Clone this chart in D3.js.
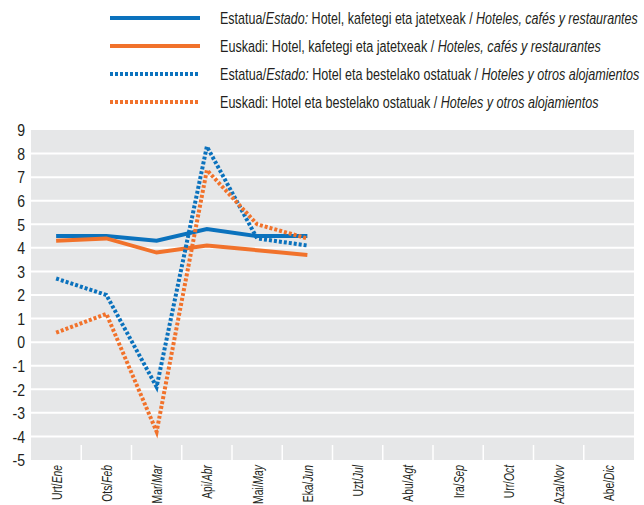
<!DOCTYPE html>
<html>
<head>
<meta charset="utf-8">
<script src="https://cdn.jsdelivr.net/npm/d3@7"></script>
<style>
  html, body { margin: 0; padding: 0; background: #fff; }
  svg { display: block; }
  text { font-family: "Liberation Sans", Arial, sans-serif; fill: #231f20; }
</style>
</head>
<body>
<svg id="chart" width="644" height="505"></svg>
<script>
// ---- data ----
const monthsEu = ["Urt", "Ots", "Mar", "Api", "Mai", "Eka", "Uzt", "Abu", "Ira", "Urr", "Aza", "Abe"];
const monthsEs = ["Ene", "Feb", "Mar", "Abr", "May", "Jun", "Jul", "Agt", "Sep", "Oct", "Nov", "Dic"];
const estadoHoteles = [4.5, 4.5, 4.3, 4.8, 4.5, 4.5];
const euskadiHoteles = [4.3, 4.4, 3.8, 4.1, 3.9, 3.7];
const estadoAlojamientos = [2.7, 2.0, -1.9, 8.3, 4.4, 4.1];
const euskadiAlojamientos = [0.4, 1.2, -3.8, 7.3, 5.0, 4.4];
const yTicks = [9, 8, 7, 6, 5, 4, 3, 2, 1, 0, -1, -2, -3, -4, -5];

const seriesNames = [
  [["Estatua/", false], ["Estado:", true], [" Hotel, kafetegi eta jatetxeak / ", false], ["Hoteles, cafés y restaurantes", true]],
  [["Euskadi: Hotel, kafetegi eta jatetxeak / ", false], ["Hoteles, cafés y restaurantes", true]],
  [["Estatua/", false], ["Estado:", true], [" Hotel eta bestelako ostatuak / ", false], ["Hoteles y otros alojamientos", true]],
  [["Euskadi: Hotel eta bestelako ostatuak / ", false], ["Hoteles y otros alojamientos", true]]
];

const blue = "#0b72bd";
const orange = "#f1722b";
const series = [
  { values: estadoHoteles, color: blue, dash: null },
  { values: euskadiHoteles, color: orange, dash: null },
  { values: estadoAlojamientos, color: blue, dash: "3,2" },
  { values: euskadiAlojamientos, color: orange, dash: "3,2" }
];

// ---- layout ----
const svg = d3.select("#chart");
const plot = { left: 31, right: 634, top: 130, bottom: 460 };

const x = d3.scaleBand().domain(d3.range(12)).range([plot.left, plot.right]).padding(0);
const y = d3.scaleLinear().domain([-5, 9]).range([plot.bottom, plot.top]);

// background
svg.append("rect")
  .attr("x", plot.left).attr("y", plot.top)
  .attr("width", plot.right - plot.left).attr("height", plot.bottom - plot.top)
  .attr("fill", "#e6e7e8");

// horizontal gridlines
svg.append("g").selectAll("line")
  .data(yTicks.filter(d => d !== 9 && d !== -5))
  .join("line")
  .attr("x1", plot.left).attr("x2", plot.right)
  .attr("y1", d => y(d)).attr("y2", d => y(d))
  .attr("stroke", "#fff").attr("stroke-width", 2);

// vertical tick separators at bottom
svg.append("g").selectAll("line")
  .data(d3.range(1, 12))
  .join("line")
  .attr("x1", d => x(d)).attr("x2", d => x(d))
  .attr("y1", plot.bottom - 15).attr("y2", plot.bottom)
  .attr("stroke", "#fff").attr("stroke-width", 1.5);

// y axis labels
const yAxis = d3.axisLeft(y).tickValues(yTicks).tickSize(0).tickPadding(0).tickFormat(d => String(d));
const yg = svg.append("g").attr("transform", `translate(${25},0)`).call(yAxis);
yg.select(".domain").remove();
yg.selectAll("text")
  .attr("font-size", 16).attr("font-family", null).attr("fill", "#231f20")
  .attr("dy", "0.36em")
  .attr("transform", "scale(0.88,1)");

// x axis labels (rotated, compressed to fit)
const xg = svg.append("g");
const labels = xg.selectAll("text")
  .data(d3.range(12))
  .join("text")
  .attr("text-anchor", "end")
  .attr("font-size", 15);
labels.append("tspan").text(d => monthsEu[d] + "/");
labels.append("tspan").attr("font-style", "italic").text(d => monthsEs[d]);
let maxLen = 0;
labels.each(function () { maxLen = Math.max(maxLen, this.getComputedTextLength()); });
const xs = Math.min(1, 39 / maxLen);
labels.attr("transform", d => `translate(${x(d) + x.bandwidth() / 2 + 5.5},${plot.bottom + 5}) rotate(-90) scale(${xs},1)`);

// lines
const line = d3.line()
  .x((d, i) => x(i) + x.bandwidth() / 2)
  .y(d => y(d));

svg.append("g").selectAll("path")
  .data(series)
  .join("path")
  .attr("d", d => line(d.values))
  .attr("fill", "none")
  .attr("stroke", d => d.color)
  .attr("stroke-width", 4)
  .attr("stroke-linejoin", "miter")
  .attr("stroke-dasharray", d => d.dash);

// legend
const legY = [18, 46, 74, 102];
const legW = [418, 381, 420, 379];
const leg = svg.append("g");
series.forEach((s, i) => {
  leg.append("line")
    .attr("x1", 110).attr("x2", 200)
    .attr("y1", legY[i]).attr("y2", legY[i])
    .attr("stroke", s.color).attr("stroke-width", 4)
    .attr("stroke-dasharray", s.dash);
  const t = leg.append("text")
    .attr("x", 0).attr("y", 0)
    .attr("font-size", 16);
  seriesNames[i].forEach(([txt, it]) => {
    const sp = t.append("tspan").text(txt);
    if (it) sp.attr("font-style", "italic");
  });
  const w = t.node().getComputedTextLength();
  t.attr("transform", `translate(220,${legY[i] + 6}) scale(${legW[i] / w},1)`);
});
</script>
</body>
</html>
